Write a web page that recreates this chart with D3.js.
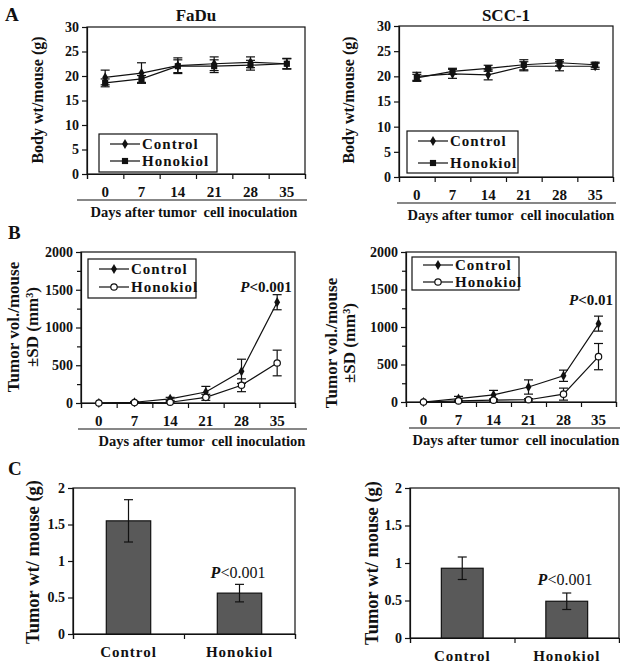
<!DOCTYPE html>
<html>
<head>
<meta charset="utf-8">
<script src="https://cdn.jsdelivr.net/npm/d3@7"></script>
<style>
  body { margin: 0; background: #fff; }
  svg { display: block; }
  text { font-family: "Liberation Serif", "Times New Roman", "DejaVu Serif", serif; font-weight: bold; fill: #111; }
  .axis path, .axis line { stroke: #111; stroke-width: 1.2; }
  .axis text { font-size: 14px; font-family: "Liberation Serif", "Times New Roman", serif; font-weight: bold; fill: #111; }
</style>
</head>
<body>
<div id="fig"></div>
<script>
// days after tumor cell inoculation
const days = ["0", "7", "14", "21", "28", "35"];
const groups = ["Control", "Honokiol"];

// A: body weight (g)
const faduWtCtrl = [19.7, 20.6, 22.1, 22.5, 22.8, 22.5];
const faduWtCtrlSd = [1.5, 2.1, 1.6, 1.4, 1.1, 1.1];
const faduWtHon = [18.6, 19.4, 22.0, 22.0, 22.2, 22.5];
const faduWtHonSd = [0.8, 0.7, 1.3, 1.3, 1.0, 1.0];

const sccWtCtrl = [20.0, 20.5, 20.3, 22.0, 22.0, 22.0];
const sccWtCtrlSd = [0.8, 0.9, 1.0, 0.9, 0.9, 0.6];
const sccWtHon = [19.7, 21.0, 21.6, 22.3, 22.7, 22.3];
const sccWtHonSd = [0.7, 0.6, 0.6, 1.0, 0.6, 0.5];

// B: tumor volume (mm3)
const faduVolCtrl = [0, 10, 55, 145, 420, 1335];
const faduVolCtrlSd = [0, 10, 20, 75, 160, 100];
const faduVolHon = [0, 5, 10, 75, 235, 530];
const faduVolHonSd = [0, 5, 10, 40, 85, 170];

const sccVolCtrl = [0, 45, 95, 200, 350, 1045];
const sccVolCtrlSd = [0, 30, 60, 95, 75, 100];
const sccVolHon = [0, 15, 25, 30, 105, 605];
const sccVolHonSd = [0, 10, 15, 15, 80, 175];

// C: tumor weight (g)
const faduTw = [1.55, 0.56];
const faduTwSd = [0.29, 0.12];
const sccTw = [0.93, 0.49];
const sccTwSd = [0.15, 0.11];

const wtTicks = [0, 5, 10, 15, 20, 25, 30];
const volTicks = [0, 500, 1000, 1500, 2000];
const volMinor = [250, 750, 1250, 1750];
const twTicks = [0, 0.5, 1, 1.5, 2];

const svg = d3.select("#fig").append("svg")
    .attr("width", 620)
    .attr("height", 664);

const ink = "#111";

function marker(g, type, x, y) {
    if (type === "circle") {
        g.append("circle").attr("cx", x).attr("cy", y).attr("r", 3.2)
            .attr("fill", "#fff").attr("stroke", ink).attr("stroke-width", 1.2);
    } else {
        let sym = type === "square" ? d3.symbolSquare : d3.symbolDiamond;
        let size = type === "square" ? 38 : 30;
        g.append("path").attr("d", d3.symbol().type(sym).size(size)())
            .attr("transform", "translate(" + x + "," + y + ")")
            .attr("fill", ink);
    }
}

function yTitle(lines, cy, size) {
    lines.forEach(function (l) {
        svg.append("text")
            .attr("transform", "translate(" + l.x + "," + cy + ") rotate(-90)")
            .attr("text-anchor", "middle")
            .attr("dominant-baseline", "central")
            .style("font-size", size + "px")
            .text(l.t);
    });
}

function linePanel(c) {
    let x = d3.scaleBand().domain(days).range([c.x0, c.x1]).padding(0);
    let xb = d3.scaleLinear().domain([0, days.length]).range([c.x0, c.x1]);
    let y = d3.scaleLinear().domain([0, c.ymax]).range([c.yBot, c.yTop]);

    // plot frame
    svg.append("rect")
        .attr("x", c.x0).attr("y", c.yTop)
        .attr("width", c.x1 - c.x0).attr("height", c.yBot - c.yTop)
        .attr("fill", "none").attr("stroke", ink).attr("stroke-width", 1.2);

    svg.append("g").attr("class", "axis")
        .attr("transform", "translate(" + c.x0 + ",0)")
        .call(d3.axisLeft(y).tickValues(c.ticks).tickSize(5).tickPadding(3).tickFormat(d3.format("d")));
    if (c.minor) {
        svg.append("g").attr("class", "axis")
            .attr("transform", "translate(" + c.x0 + ",0)")
            .call(d3.axisLeft(y).tickValues(c.minor).tickSize(4).tickFormat(""))
            .select(".domain").remove();
    }
    svg.append("g").attr("class", "axis")
        .attr("transform", "translate(0," + c.yBot + ")")
        .call(d3.axisBottom(xb).tickValues(d3.range(days.length + 1)).tickSize(5).tickFormat(""));
    let xl = svg.append("g").attr("class", "axis")
        .attr("transform", "translate(0," + c.yBot + ")")
        .call(d3.axisBottom(x).tickSize(0).tickPadding(12));
    xl.select(".domain").remove();
    xl.selectAll("text").style("font-size", "15px");

    // underline + x title
    svg.append("line")
        .attr("x1", c.ulX0).attr("x2", c.ulX1)
        .attr("y1", c.yBot + 26).attr("y2", c.yBot + 26)
        .attr("stroke", ink).attr("stroke-width", 1.2);
    svg.append("text")
        .attr("x", c.xtX).attr("y", c.yBot + 43)
        .attr("text-anchor", "middle")
        .attr("xml:space", "preserve")
        .style("font-size", "14.5px")
        .text("Days after tumor  cell inoculation");

    // series
    let line = d3.line().x(function (d, i) { return x(days[i]) + x.bandwidth() / 2; }).y(function (d) { return y(d); });
    c.series.forEach(function (s) {
        let g = svg.append("g");
        g.append("path").attr("d", line(s.vals))
            .attr("fill", "none").attr("stroke", ink).attr("stroke-width", 1.2);
        s.vals.forEach(function (v, i) {
            let cx = x(days[i]) + x.bandwidth() / 2;
            if (s.sd[i] > 0) {
                let t = y(v + s.sd[i]), b = y(v - s.sd[i]);
                g.append("line").attr("x1", cx).attr("x2", cx).attr("y1", t).attr("y2", b)
                    .attr("stroke", ink).attr("stroke-width", 1.2);
                [t, b].forEach(function (yy) {
                    g.append("line").attr("x1", cx - 4.5).attr("x2", cx + 4.5).attr("y1", yy).attr("y2", yy)
                        .attr("stroke", ink).attr("stroke-width", 1.2);
                });
            }
            marker(g, s.marker, cx, y(v));
        });
    });

    // legend
    let L = c.legend;
    svg.append("rect").attr("x", L.x).attr("y", L.y).attr("width", L.w).attr("height", L.h)
        .attr("fill", "#fff").attr("stroke", ink).attr("stroke-width", 1.2);
    c.series.forEach(function (s, i) {
        let ly = L.y + L.pad + i * L.gap;
        svg.append("line").attr("x1", L.x + 11).attr("x2", L.x + 41).attr("y1", ly).attr("y2", ly)
            .attr("stroke", ink).attr("stroke-width", 1.2);
        marker(svg, s.marker, L.x + 26, ly);
        svg.append("text").attr("x", L.x + 43).attr("y", ly)
            .attr("dominant-baseline", "central")
            .style("font-size", "15px").style("letter-spacing", "1px")
            .text(groups[i]);
    });

    if (c.title) {
        svg.append("text").attr("x", (c.x0 + c.x1) / 2).attr("y", 21)
            .attr("text-anchor", "middle").style("font-size", "17px").text(c.title);
    }
    if (c.pText) {
        let p = svg.append("text").attr("x", c.pText.x).attr("y", c.pText.y)
            .attr("text-anchor", "middle").style("font-size", "15px");
        p.append("tspan").style("font-style", "italic").text("P");
        p.append("tspan").text(c.pText.t);
    }
}

function barPanel(c) {
    let x = d3.scaleBand().domain(groups).range([c.x0, c.x1]).paddingInner(0.6).paddingOuter(0.3);
    let xb = d3.scaleLinear().domain([0, groups.length]).range([c.x0, c.x1]);
    let y = d3.scaleLinear().domain([0, 2]).range([c.yBot, c.yTop]);

    svg.append("rect")
        .attr("x", c.x0).attr("y", c.yTop)
        .attr("width", c.x1 - c.x0).attr("height", c.yBot - c.yTop)
        .attr("fill", "none").attr("stroke", ink).attr("stroke-width", 1.2);

    svg.append("g").attr("class", "axis")
        .attr("transform", "translate(" + c.x0 + ",0)")
        .call(d3.axisLeft(y).tickValues(twTicks).tickSize(5).tickPadding(3).tickFormat(d3.format("")));
    svg.append("g").attr("class", "axis")
        .attr("transform", "translate(0," + c.yBot + ")")
        .call(d3.axisBottom(xb).tickValues([0, 1, 2]).tickSize(5).tickFormat(""));
    let xl = svg.append("g").attr("class", "axis")
        .attr("transform", "translate(0," + c.yBot + ")")
        .call(d3.axisBottom(x).tickSize(0).tickPadding(12));
    xl.select(".domain").remove();
    xl.selectAll("text").style("font-size", "15px").style("letter-spacing", "1px");

    groups.forEach(function (gname, i) {
        let v = c.vals[i], sd = c.sd[i];
        svg.append("rect")
            .attr("x", x(gname)).attr("y", y(v))
            .attr("width", x.bandwidth()).attr("height", c.yBot - y(v))
            .attr("fill", "#595959").attr("stroke", ink).attr("stroke-width", 1.2);
        let cx = x(gname) + x.bandwidth() / 2;
        let t = y(v + sd), b = y(v - sd);
        svg.append("line").attr("x1", cx).attr("x2", cx).attr("y1", t).attr("y2", b)
            .attr("stroke", ink).attr("stroke-width", 1.2);
        [t, b].forEach(function (yy) {
            svg.append("line").attr("x1", cx - 4.5).attr("x2", cx + 4.5).attr("y1", yy).attr("y2", yy)
                .attr("stroke", ink).attr("stroke-width", 1.2);
        });
    });

    let p = svg.append("text").attr("x", c.pText.x).attr("y", c.pText.y)
        .attr("text-anchor", "middle").style("font-size", "16px").style("font-weight", "normal");
    p.append("tspan").style("font-style", "italic").style("font-weight", "bold").text("P");
    p.append("tspan").text("<0.001");
}

// ---- row A ----
linePanel({
    x0: 87, x1: 305, yTop: 27, yBot: 174, ymax: 30, ticks: wtTicks,
    ulX0: 77, ulX1: 307, xtX: 194, title: "FaDu",
    series: [{vals: faduWtCtrl, sd: faduWtCtrlSd, marker: "diamond"},
             {vals: faduWtHon, sd: faduWtHonSd, marker: "square"}],
    legend: {x: 99, y: 134, w: 118, h: 38, pad: 10, gap: 17}
});
linePanel({
    x0: 399, x1: 613, yTop: 26, yBot: 177, ymax: 30, ticks: wtTicks,
    ulX0: 397, ulX1: 616, xtX: 511, title: "SCC-1",
    series: [{vals: sccWtCtrl, sd: sccWtCtrlSd, marker: "diamond"},
             {vals: sccWtHon, sd: sccWtHonSd, marker: "square"}],
    legend: {x: 407, y: 131, w: 111, h: 42, pad: 10, gap: 22}
});
yTitle([{x: 37, t: "Body wt/mouse (g)"}], 100, 16);
yTitle([{x: 348, t: "Body wt/mouse (g)"}], 100, 16);

// ---- row B ----
linePanel({
    x0: 81, x1: 295, yTop: 252, yBot: 403, ymax: 2000, ticks: volTicks, minor: volMinor,
    ulX0: 78, ulX1: 307, xtX: 202,
    series: [{vals: faduVolCtrl, sd: faduVolCtrlSd, marker: "diamond"},
             {vals: faduVolHon, sd: faduVolHonSd, marker: "circle"}],
    legend: {x: 88, y: 259, w: 108, h: 39, pad: 10, gap: 18},
    pText: {x: 266, y: 292, t: "<0.001"}
});
linePanel({
    x0: 406, x1: 616, yTop: 252, yBot: 402, ymax: 2000, ticks: volTicks, minor: volMinor,
    ulX0: 409, ulX1: 620, xtX: 516,
    series: [{vals: sccVolCtrl, sd: sccVolCtrlSd, marker: "diamond"},
             {vals: sccVolHon, sd: sccVolHonSd, marker: "circle"}],
    legend: {x: 412, y: 257, w: 107, h: 33, pad: 8, gap: 17},
    pText: {x: 591, y: 305, t: "<0.01"}
});
yTitle([{x: 13, t: "Tumor vol./mouse"}, {x: 32, t: "±SD (mm³)"}], 327, 17);
yTitle([{x: 331, t: "Tumor vol./mouse"}, {x: 349, t: "±SD (mm³)"}], 343, 17);

// ---- row C ----
barPanel({x0: 73, x1: 295, yTop: 488, yBot: 634, vals: faduTw, sd: faduTwSd, pText: {x: 238, y: 578}});
barPanel({x0: 410, x1: 619, yTop: 488, yBot: 638, vals: sccTw, sd: sccTwSd, pText: {x: 565, y: 585}});
yTitle([{x: 33, t: "Tumor wt/ mouse (g)"}], 562, 18.5);
yTitle([{x: 372, t: "Tumor wt/ mouse (g)"}], 563, 18.5);

// panel letters
[["A", 5, 21], ["B", 8, 239], ["C", 8, 475]].forEach(function (d) {
    svg.append("text").attr("x", d[1]).attr("y", d[2]).style("font-size", "19px").text(d[0]);
});
</script>
</body>
</html>
